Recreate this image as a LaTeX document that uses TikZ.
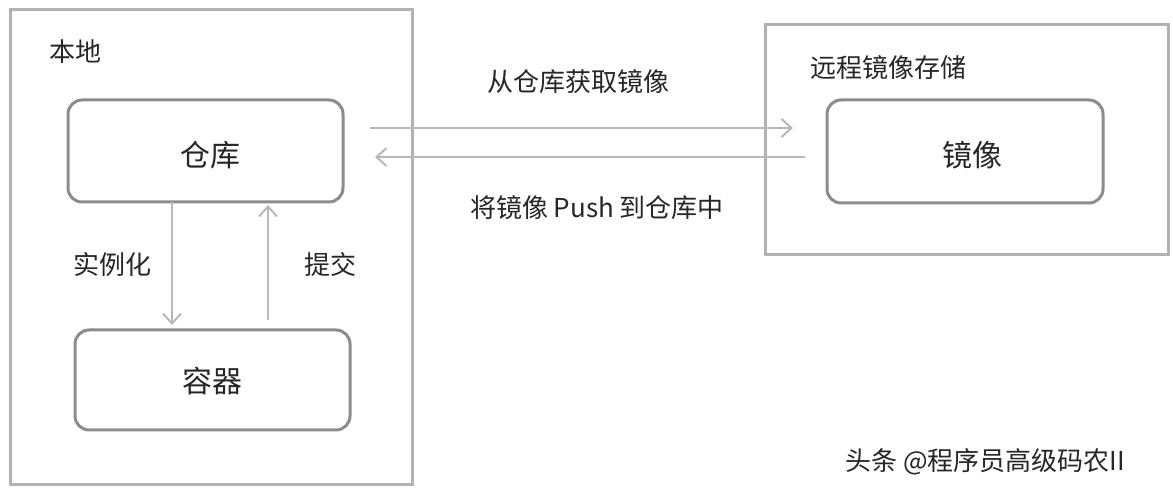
\documentclass[tikz,border=0pt]{standalone}
\usepackage{fontspec}
\setmainfont{Noto Sans CJK SC}
\usetikzlibrary{arrows.meta}
\begin{document}
\begin{tikzpicture}[x=0.5pt,y=-0.5pt,
  outer/.style={draw=black!30,line width=1.5pt},
  inner/.style={draw=black!45,line width=1.5pt,rounded corners=7pt},
  lbl/.style={font=\fontsize{13}{15}\selectfont,text=black!85},
  big/.style={font=\fontsize{15}{17}\selectfont,text=black!85},
  arr/.style={draw=black!28,line width=1pt,-{Straight Barb[length=5pt,width=9pt]}}]
\useasboundingbox (0,0) rectangle (1173,491);
\draw[outer] (10,10) rectangle (412,485);
\draw[outer] (765,25) rectangle (1168,255);
\draw[inner] (68,100) rectangle (343,202);
\draw[inner] (75,330) rectangle (350,430);
\draw[inner] (827,100) rectangle (1103,203);
\node[lbl] (local) at (75,52) {本地};
\node[big] (ck) at (210,155) {仓库};
\node[big] (rq) at (212,381) {容器};
\node[lbl] (remote) at (888,68) {远程镜像存储};
\node[big] (jx) at (972,155) {镜像};
\coordinate (a1) at (172,202); \coordinate (a2) at (172,325);
\coordinate (b1) at (268,320); \coordinate (b2) at (268,205);
\coordinate (c1) at (370,128); \coordinate (c2) at (793,128);
\coordinate (d1) at (805,157); \coordinate (d2) at (375,157);
\draw[arr] (a1) -- (a2);
\draw[arr] (b1) -- (b2);
\draw[arr] (c1) -- (c2);
\draw[arr] (d1) -- (d2);
\node[lbl] (l1) at (112,265) {实例化};
\node[lbl] (l2) at (330,265) {提交};
\node[lbl] (l3) at (578,82) {从仓库获取镜像};
\node[lbl] (l4) at (597,208) {将镜像 Push 到仓库中};
\node[lbl] (wm) at (985,462) {头条 @程序员高级码农II};
\end{tikzpicture}
\end{document}
